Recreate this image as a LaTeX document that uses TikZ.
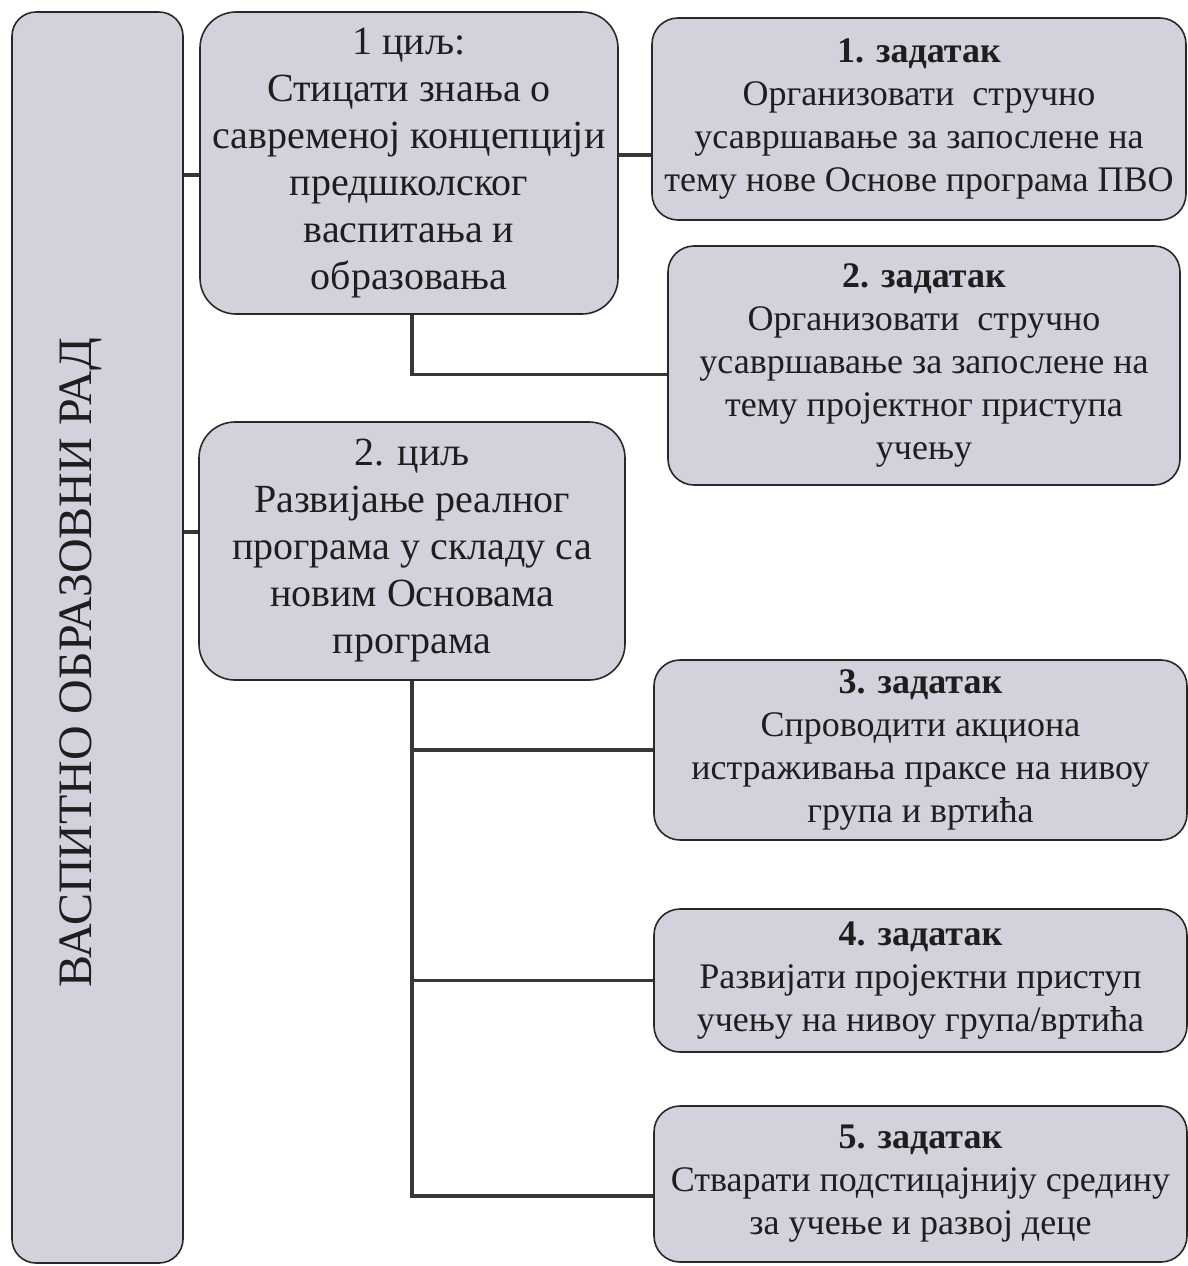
\documentclass[tikz,border=0pt]{standalone}
\usepackage{fontspec}
\setmainfont{Liberation Serif}
\usepackage{xcolor}
\usetikzlibrary{positioning,calc}
\definecolor{boxgray}{RGB}{211,210,220}
\definecolor{edgegray}{RGB}{40,40,40}
\definecolor{linegray}{RGB}{55,55,55}
\definecolor{inkgray}{RGB}{30,30,30}
\tikzset{%
	mainbox/.style = {draw=edgegray, fill=boxgray, line width=0.8pt, rounded corners=12pt, inner sep=0pt, rotate=90, minimum width=625.5pt, minimum height=85.5pt, text=inkgray, text depth=22pt, font=\fontsize{24}{28}\selectfont},
	goalbox/.style = {draw=edgegray, fill=boxgray, line width=0.8pt, rounded corners=18pt, inner sep=0pt, align=center, text=inkgray, font=\fontsize{20}{23.5}\selectfont},
	taskbox/.style = {draw=edgegray, fill=boxgray, line width=0.8pt, rounded corners=13pt, inner sep=0pt, align=center, text=inkgray, font=\fontsize{18}{21.5}\selectfont, minimum width=266.5pt},
	link/.style    = {draw=linegray, line width=1.6pt},
}

\begin{document}
\begin{tikzpicture}[x=0.5pt, y=-0.5pt]
	\useasboundingbox (0,0) rectangle (1188,1266);
	% left column
	\node[mainbox] (vor) at (97.5,637.5) {ВАСПИТНО ОБРАЗОВНИ РАД\hspace*{25pt}};
	% goals
	\node[goalbox, minimum width=209pt, minimum height=151pt] (cilj1) at (409,163) {1 циљ:\\Стицати знања о\\савременој концепцији\\предшколског\\васпитања и\\образовања};
	\node[goalbox, minimum width=213pt, minimum height=129pt] (cilj2) at (412,551) {2. циљ\\Развијање реалног\\програма у складу са\\новим Основама\\програма};
	% tasks
	\node[taskbox, minimum width=267pt, minimum height=101pt] (zad1) at (919,119) {\textbf{1. задатак}\\Организовати\ \ стручно\\усавршавање за запослене на\\тему нове Основе програма ПВО};
	\node[taskbox, minimum width=256pt, minimum height=119.5pt] (zad2) at (924,365.5) {\textbf{2. задатак}\\Организовати\ \ стручно\\усавршавање за запослене на\\тему пројектног приступа\\учењу};
	\node[taskbox, minimum height=90pt] (zad3) at (920.5,750) {\textbf{3. задатак}\\Спроводити акциона\\истраживања праксе на нивоу\\група и вртића};
	\node[taskbox, minimum height=71.5pt] (zad4) at (920.5,980.5) {\textbf{4. задатак}\\Развијати пројектни приступ\\учењу на нивоу група/вртића};
	\node[taskbox, minimum height=78pt] (zad5) at (920.5,1184) {\textbf{5. задатак}\\Стварати подстицајнију средину\\за учење и развој деце};

	\draw[link] ([yshift=-6pt]cilj1.west) -- ([yshift=-6pt]cilj1.west -| vor.south);
	\draw[link] ([yshift=9.5pt]cilj2.west) -- ([yshift=9.5pt]cilj2.west -| vor.south);
	\draw[link] ([yshift=4pt]cilj1.east) -- ([yshift=4pt]cilj1.east -| zad1.west);
	\draw[link] ([xshift=1.5pt]cilj1.south) |- ([yshift=-4.5pt]zad2.west);
	\draw[link] (cilj2.south) |- ([yshift=-6pt]zad5.west);
	\foreach \k in {3,4}
		\draw[link] (cilj2.south |- zad\k.west) -- (zad\k.west);
\end{tikzpicture}
\end{document}
